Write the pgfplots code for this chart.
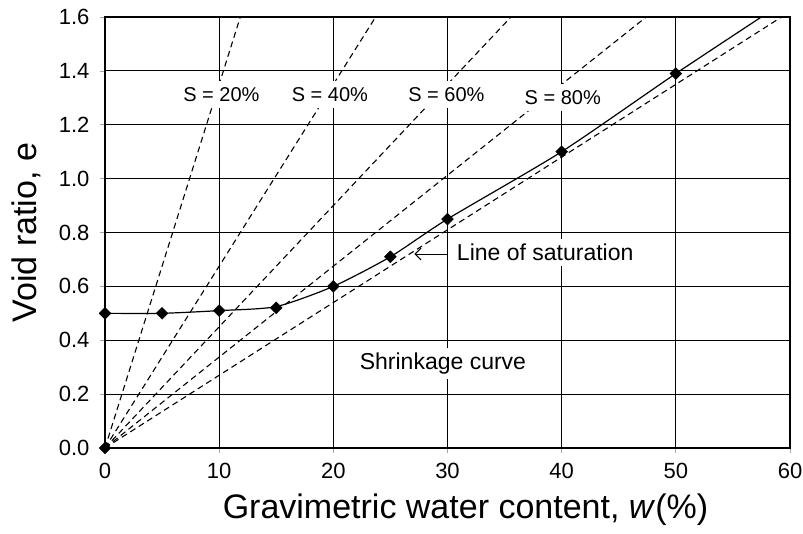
\documentclass[border=0pt]{standalone}
\usepackage{fontspec}
\setmainfont{Liberation Sans}
\usepackage{pgfplots}
\pgfplotsset{compat=1.18}
\usetikzlibrary{arrows.meta}
\begin{document}
\begin{tikzpicture}[x=1pt,y=1pt]
\useasboundingbox (-105,-85) rectangle (698,448);
\begin{axis}[
  at={(0,0)}, anchor=south west,
  scale only axis, width=685pt, height=431pt,
  xmin=0, xmax=60, ymin=0, ymax=1.6,
  xtick={0,10,...,60}, ytick={0,0.2,...,1.6},
  grid=major, major grid style={black, line width=1.2pt},
  axis line style={black, line width=1.2pt},
  tick style={gray!70, line width=0.7pt},
  tick align=outside, major tick length=5pt,
  xtick pos=bottom, ytick pos=left,
  tick label style={font=\fontsize{22}{22}\selectfont},
  /pgf/number format/assume math mode=true,
  xticklabel style={yshift=-7pt},
  yticklabel style={xshift=-7pt, /pgf/number format/fixed, /pgf/number format/fixed zerofill, /pgf/number format/precision=1},
  xlabel={Gravimetric water content, \textit{w}(\%)},
  ylabel={Void ratio, e},
  label style={font=\fontsize{34}{34}\selectfont},
  xlabel style={at={(axis description cs:0.5,0)}, yshift=-70pt, xshift=18pt, anchor=base},
  ylabel style={at={(axis description cs:-0.0993,0.5)}, anchor=base, rotate=0},
  clip=true,
]
% dashed lines of constant saturation, Gs = 2.7
\addplot[black, dash pattern=on 6pt off 4pt, line width=1.1pt] coordinates {(0,0) (12,1.62)};
\addplot[black, dash pattern=on 6pt off 4pt, line width=1.1pt] coordinates {(0,0) (24,1.62)};
\addplot[black, dash pattern=on 6pt off 4pt, line width=1.1pt] coordinates {(0,0) (36,1.62)};
\addplot[black, dash pattern=on 6pt off 4pt, line width=1.1pt] coordinates {(0,0) (48,1.62)};
\addplot[black, dash pattern=on 6pt off 4pt, line width=1.1pt] coordinates {(0,0) (60,1.62)};
% shrinkage curve
\addplot[black, line width=1.2pt, smooth, tension=0.4] coordinates {
(0,0.50) (5,0.50) (10,0.51) (15,0.525) (20,0.60) (25,0.71) (30,0.85) (40,1.10) (50,1.39) (60,1.67)};
\addplot[only marks, mark=square*, mark size=4.2pt, mark options={rotate=45, draw=none, fill=black}] coordinates {
(0,0.50) (5,0.50) (10,0.51) (15,0.52) (20,0.60) (25,0.71) (30,0.85) (40,1.10) (50,1.39) (0,0)};
% annotations
\node[fill=white, inner xsep=3pt, inner ysep=6.5pt, font=\fontsize{20}{20}\selectfont] at (axis cs:10.2,1.312) {S = 20\%};
\node[fill=white, inner xsep=3pt, inner ysep=6.5pt, font=\fontsize{20}{20}\selectfont] at (axis cs:19.7,1.312) {S = 40\%};
\node[fill=white, inner xsep=3pt, inner ysep=6.5pt, font=\fontsize{20}{20}\selectfont] at (axis cs:29.9,1.312) {S = 60\%};
\node[fill=white, inner xsep=3pt, inner ysep=6.5pt, font=\fontsize{20}{20}\selectfont] at (axis cs:40.1,1.302) {S = 80\%};
\node[fill=white, inner xsep=3pt, inner ysep=5pt, anchor=west, font=\fontsize{23}{23}\selectfont] at (axis cs:30.55,0.725) {Line of saturation};
\draw[-{Straight Barb[length=6pt,width=12pt]}, black, line width=1pt] (axis cs:30.0,0.72) -- (axis cs:27.1,0.72);
\node[fill=white, inner xsep=4pt, inner ysep=5pt, font=\fontsize{23}{23}\selectfont] at (axis cs:29.6,0.314) {Shrinkage curve};
\end{axis}
\end{tikzpicture}
\end{document}
